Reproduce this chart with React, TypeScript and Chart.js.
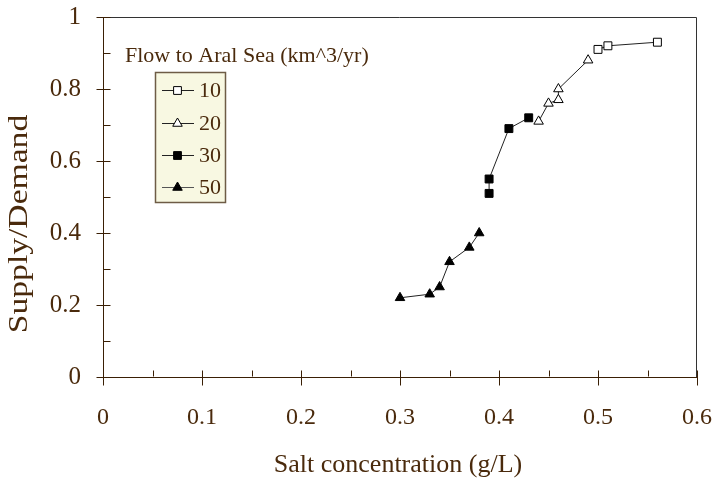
import React, { useEffect, useRef } from "react";
import { Chart, registerables } from "chart.js";

Chart.register(...registerables);

// ---- data ----
const series10X = [0.5, 0.51, 0.56];
const series10Y = [0.91, 0.92, 0.93];
const series20X = [0.44, 0.45, 0.46, 0.46, 0.49];
const series20Y = [0.71, 0.76, 0.77, 0.8, 0.88];
const series30X = [0.39, 0.39, 0.41, 0.43];
const series30Y = [0.51, 0.55, 0.69, 0.72];
const series50X = [0.3, 0.33, 0.34, 0.35, 0.37, 0.38];
const series50Y = [0.22, 0.23, 0.25, 0.32, 0.36, 0.4];

const legendLabels = ["10", "20", "30", "50"];
const legendTitle = "Flow to Aral Sea (km^3/yr)";
const xTitle = "Salt concentration (g/L)";
const yTitle = "Supply/Demand";
const xTickValues = [0, 0.1, 0.2, 0.3, 0.4, 0.5, 0.6];
const xMinorTicks = [0.05, 0.15, 0.25, 0.35, 0.45, 0.55];
const yTickValues = [0, 0.2, 0.4, 0.6, 0.8, 1];
const yMinorTicks = [0.1, 0.3, 0.5, 0.7, 0.9];

const TEXT = "#4a2a0c";
const AXIS = "#3a1f05";
const FONT = "'Liberation Serif', 'Times New Roman', serif";

const toPts = (xs: number[], ys: number[]) => xs.map((x, i) => ({ x, y: ys[i] }));

type Marker = { style: string; fill: string };
const markers: Marker[] = [
  { style: "rect", fill: "#ffffff" },
  { style: "triangle", fill: "#ffffff" },
  { style: "rect", fill: "#000000" },
  { style: "triangle", fill: "#000000" },
];

function drawMarker(ctx: CanvasRenderingContext2D, m: Marker, x: number, y: number) {
  ctx.save();
  ctx.beginPath();
  if (m.style === "rect") {
    const s = 3.9;
    ctx.rect(x - s, y - s, 2 * s, 2 * s);
  } else {
    const r = 5.5;
    ctx.moveTo(x, y - r);
    ctx.lineTo(x + r * Math.sin((2 * Math.PI) / 3), y - r * Math.cos((2 * Math.PI) / 3));
    ctx.lineTo(x + r * Math.sin((4 * Math.PI) / 3), y - r * Math.cos((4 * Math.PI) / 3));
    ctx.closePath();
  }
  ctx.fillStyle = m.fill;
  ctx.fill();
  ctx.lineWidth = 1;
  ctx.strokeStyle = "#000";
  ctx.stroke();
  ctx.restore();
}

const decorPlugin = {
  id: "decor",
  afterDraw(chart: any) {
    const ctx: CanvasRenderingContext2D = chart.ctx;
    const xs = chart.scales.x;
    const ys = chart.scales.y;
    const { left, right, top, bottom } = chart.chartArea;
    ctx.save();
    // top & right frame
    ctx.strokeStyle = "#333333";
    ctx.lineWidth = 1;
    ctx.beginPath();
    ctx.moveTo(left, top + 0.5);
    ctx.lineTo(right - 0.5, top + 0.5);
    ctx.lineTo(right - 0.5, bottom);
    ctx.stroke();
    // ticks
    ctx.strokeStyle = AXIS;
    ctx.beginPath();
    const ax = Math.round(left) + 0.5;
    yTickValues.forEach((v) => {
      const py = Math.round(ys.getPixelForValue(v)) + 0.5;
      ctx.moveTo(ax - 7, py);
      ctx.lineTo(ax + 7, py);
    });
    yMinorTicks.forEach((v) => {
      const py = Math.round(ys.getPixelForValue(v)) + 0.5;
      ctx.moveTo(ax, py);
      ctx.lineTo(ax + 7, py);
    });
    const ay = Math.round(bottom) - 0.5;
    xTickValues.forEach((v) => {
      const px = Math.round(xs.getPixelForValue(v)) + 0.5;
      ctx.moveTo(px, ay - 6);
      ctx.lineTo(px, ay + 9);
    });
    xMinorTicks.forEach((v) => {
      const px = Math.round(xs.getPixelForValue(v)) + 0.5;
      ctx.moveTo(px, ay - 6);
      ctx.lineTo(px, ay);
    });
    ctx.stroke();

    // axis titles
    ctx.fillStyle = TEXT;
    ctx.textAlign = "center";
    ctx.textBaseline = "middle";
    ctx.font = `26px ${FONT}`;
    ctx.fillText(xTitle, 398, 465);
    ctx.save();
    ctx.translate(20, 224);
    ctx.rotate(-Math.PI / 2);
    ctx.scale(1.2, 1);
    ctx.font = `28px ${FONT}`;
    ctx.fillText(yTitle, 0, 0);
    ctx.restore();

    // legend
    ctx.textAlign = "left";
    ctx.textBaseline = "alphabetic";
    ctx.font = `22px ${FONT}`;
    ctx.fillText(legendTitle, 125, 62);
    ctx.fillStyle = "#f8f8e2";
    ctx.fillRect(155, 72, 71, 131);
    ctx.strokeStyle = "#6e5c46";
    ctx.lineWidth = 1.5;
    ctx.strokeRect(155.5, 72.5, 70, 130);
    const rows = [90, 123, 155, 187];
    rows.forEach((ry, i) => {
      ctx.strokeStyle = i === 3 ? "#555" : "#222";
      ctx.lineWidth = 1;
      ctx.beginPath();
      ctx.moveTo(162, ry + 0.5);
      ctx.lineTo(194, ry + 0.5);
      ctx.stroke();
      drawMarker(ctx, markers[i], 177.5, ry + 0.5);
      ctx.fillStyle = TEXT;
      ctx.textBaseline = "middle";
      ctx.font = `22px ${FONT}`;
      ctx.fillText(legendLabels[i], 199, ry + 1);
    });
    ctx.restore();
  },
};

export default function App() {
  const ref = useRef<HTMLCanvasElement | null>(null);
  useEffect(() => {
    if (!ref.current) return;
    const mk = (xs: number[], ys: number[], label: string, i: number) => ({
      label,
      data: toPts(xs, ys),
      showLine: true,
      borderColor: "#222222",
      borderWidth: 1,
      pointStyle: markers[i].style,
      pointRadius: markers[i].style === "rect" ? 5.6 : 5.5,
      pointBackgroundColor: markers[i].fill,
      pointBorderColor: "#000",
      pointBorderWidth: 1,
      tension: 0,
    });
    const chart = new Chart(ref.current, {
      type: "scatter",
      data: {
        datasets: [
          mk(series10X, series10Y, legendLabels[0], 0),
          mk(series20X, series20Y, legendLabels[1], 1),
          mk(series30X, series30Y, legendLabels[2], 2),
          mk(series50X, series50Y, legendLabels[3], 3),
        ],
      },
      options: {
        responsive: false,
        animation: false,
        layout: { padding: { top: 17, right: 15, left: 0, bottom: 0 } },
        plugins: { legend: { display: false }, tooltip: { enabled: false } },
        scales: {
          x: {
            type: "linear",
            min: 0,
            max: 0.6,
            afterFit: (s: any) => {
              s.height = 104;
              s.paddingLeft = 0;
              s.paddingRight = 0;
              s.paddingTop = 0;
              s.paddingBottom = 0;
            },
            afterBuildTicks: (s: any) => {
              s.ticks = xTickValues.map((v) => ({ value: v }));
            },
            grid: { display: false, drawTicks: false },
            border: { display: true, color: AXIS, width: 1 },
            ticks: {
              autoSkip: false,
              maxRotation: 0,
              padding: 26,
              color: TEXT,
              font: { family: FONT, size: 24 },
              callback: (v: any) => String(Number(Number(v).toFixed(2))),
            },
          },
          y: {
            type: "linear",
            min: 0,
            max: 1,
            afterFit: (s: any) => {
              s.width = 103;
              s.paddingLeft = 0;
              s.paddingRight = 0;
              s.paddingTop = 0;
              s.paddingBottom = 0;
            },
            afterBuildTicks: (s: any) => {
              s.ticks = yTickValues.map((v) => ({ value: v }));
            },
            grid: { display: false, drawTicks: false },
            border: { display: true, color: AXIS, width: 1 },
            ticks: {
              autoSkip: false,
              padding: 22,
              color: TEXT,
              font: { family: FONT, size: 25 },
              callback: (v: any) => String(Number(Number(v).toFixed(2))),
            },
          },
        },
      },
      plugins: [decorPlugin],
    } as any);
    return () => chart.destroy();
  }, []);
  return (
    <div style={{ position: "fixed", left: 0, top: 0, width: 712, height: 481, background: "#fff" }}>
      <canvas ref={ref} width={712} height={481} style={{ display: "block" }} />
    </div>
  );
}
